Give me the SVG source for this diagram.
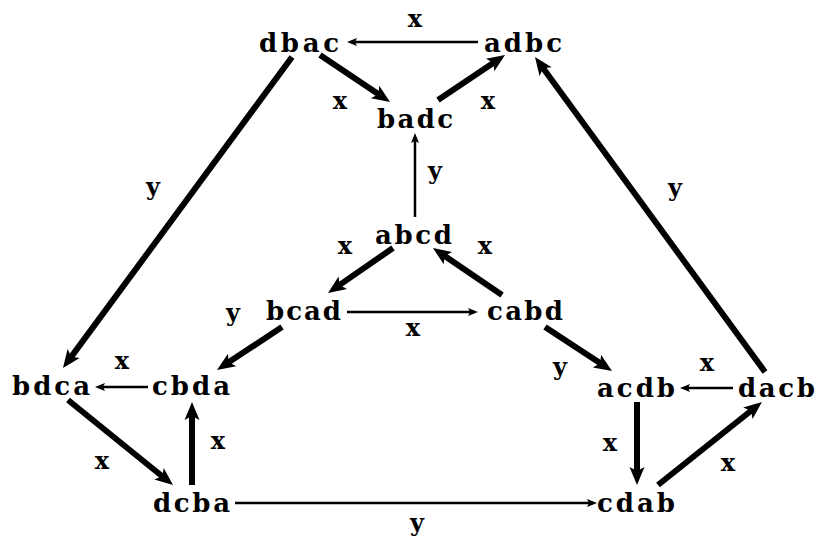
<svg xmlns="http://www.w3.org/2000/svg" width="818" height="536" viewBox="0 0 818 536">
<style>
.n{font-family:"DejaVu Serif","Liberation Serif",serif;font-size:26px;font-weight:bold;fill:#000}
.l{font-family:"DejaVu Serif","Liberation Serif",serif;font-size:24px;font-weight:bold;fill:#000;text-anchor:middle}
.thick{stroke:#000;stroke-width:6;fill:none;marker-end:url(#hk)}
.thin{stroke:#000;stroke-width:2.5;fill:none;marker-end:url(#hn)}
</style>
<defs>
<marker id="hk" markerUnits="userSpaceOnUse" markerWidth="18" markerHeight="15" refX="10" refY="7.5" orient="auto" overflow="visible"><path d="M0,0 L18,7.5 L0,15 L4,7.5 z" fill="#000"/></marker>
<marker id="hn" markerUnits="userSpaceOnUse" markerWidth="10" markerHeight="8" refX="6" refY="4" orient="auto" overflow="visible"><path d="M0,0 L10,4 L0,8 L2,4 z" fill="#000"/></marker>
</defs>
<rect width="818" height="536" fill="#fff"/>
<g id="connectors">
<line class="thin" x1="478" y1="42" x2="351" y2="42"/>
<line class="thick" x1="320" y1="55" x2="383.4" y2="97.5"/>
<line class="thick" x1="438" y1="100" x2="498.4" y2="59.5"/>
<line class="thick" x1="292" y1="57" x2="67.7" y2="361.6"/>
<line class="thick" x1="765" y1="372" x2="539.7" y2="63.5"/>
<line class="thin" x1="415" y1="217" x2="415" y2="137"/>
<line class="thick" x1="393" y1="248" x2="334.6" y2="288.4"/>
<line class="thick" x1="502" y1="295" x2="439.6" y2="252.5"/>
<line class="thin" x1="347" y1="312" x2="474" y2="312"/>
<line class="thick" x1="282" y1="327" x2="223.7" y2="365.6"/>
<line class="thick" x1="545" y1="327" x2="605.3" y2="366.6"/>
<line class="thin" x1="148" y1="387" x2="99" y2="387"/>
<line class="thin" x1="733" y1="388" x2="684" y2="388"/>
<line class="thick" x1="68" y1="400" x2="166.8" y2="480"/>
<line class="thick" x1="192" y1="485" x2="192" y2="410"/>
<line class="thick" x1="637" y1="402" x2="637" y2="477"/>
<line class="thick" x1="658" y1="485" x2="755.7" y2="407"/>
<line class="thin" x1="235" y1="503" x2="593" y2="503"/>
</g>
<g id="labels">
<text class="l" x="415" y="27">x</text>
<text class="l" x="340" y="109">x</text>
<text class="l" x="488" y="109">x</text>
<text class="l" x="435" y="179">y</text>
<text class="l" x="345" y="254">x</text>
<text class="l" x="485" y="254">x</text>
<text class="l" x="413" y="336">x</text>
<text class="l" x="233" y="321">y</text>
<text class="l" x="153" y="195">y</text>
<text class="l" x="675" y="196">y</text>
<text class="l" x="122" y="369">x</text>
<text class="l" x="102" y="469">x</text>
<text class="l" x="218" y="449">x</text>
<text class="l" x="560" y="375">y</text>
<text class="l" x="707" y="371">x</text>
<text class="l" x="610" y="451">x</text>
<text class="l" x="728" y="471">x</text>
<text class="l" x="417" y="531">y</text>
</g>
<g id="dbac"><text class="n" x="259" y="52" textLength="80" lengthAdjust="spacing">dbac</text></g>
<g id="adbc"><text class="n" x="484" y="52" textLength="78" lengthAdjust="spacing">adbc</text></g>
<g id="badc"><text class="n" x="377" y="128" textLength="76" lengthAdjust="spacing">badc</text></g>
<g id="abcd"><text class="n" x="375" y="244" textLength="77" lengthAdjust="spacing">abcd</text></g>
<g id="bcad"><text class="n" x="266" y="320" textLength="75" lengthAdjust="spacing">bcad</text></g>
<g id="cabd"><text class="n" x="487" y="320" textLength="76" lengthAdjust="spacing">cabd</text></g>
<g id="bdca"><text class="n" x="12" y="395" textLength="78" lengthAdjust="spacing">bdca</text></g>
<g id="cbda"><text class="n" x="152" y="395" textLength="78" lengthAdjust="spacing">cbda</text></g>
<g id="acdb"><text class="n" x="597" y="397" textLength="78" lengthAdjust="spacing">acdb</text></g>
<g id="dacb"><text class="n" x="738" y="397" textLength="77" lengthAdjust="spacing">dacb</text></g>
<g id="dcba"><text class="n" x="153" y="512" textLength="77" lengthAdjust="spacing">dcba</text></g>
<g id="cdab"><text class="n" x="597" y="512" textLength="78" lengthAdjust="spacing">cdab</text></g>
</svg>
